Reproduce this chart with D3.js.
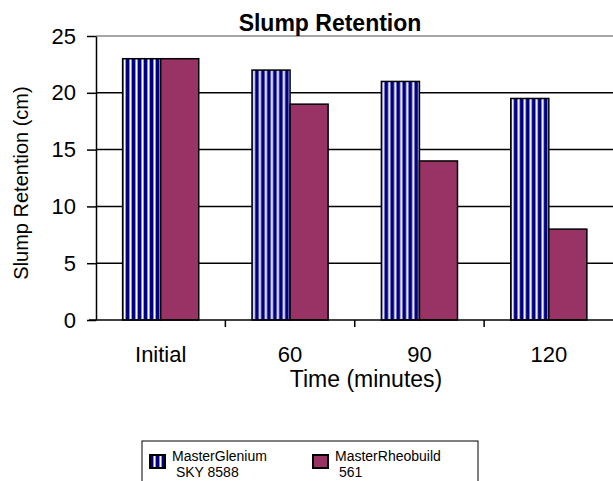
<!DOCTYPE html>
<html>
<head>
<meta charset="utf-8">
<script src="https://cdn.jsdelivr.net/npm/d3@7"></script>
<style>
  body { margin: 0; background: #fff; }
  text { font-family: Arial, "Liberation Sans", sans-serif; }
</style>
</head>
<body>
<svg id="chart" width="613" height="481"></svg>
<script>
// chart data
var categories = ["Initial", "60", "90", "120"];
var glenium = [23, 22, 21, 19.5];
var rheobuild = [23, 19, 14, 8];
var seriesNames = ["MasterGlenium", "MasterRheobuild"];
var legendLines = [["MasterGlenium", " SKY 8588"], ["MasterRheobuild", " 561"]];
var yTicks = [0, 5, 10, 15, 20, 25];

var svg = d3.select("#chart");

// stripe pattern for the first series
var defs = svg.append("defs");
var pat = defs.append("pattern")
    .attr("id", "stripes")
    .attr("patternUnits", "userSpaceOnUse")
    .attr("width", 6).attr("height", 10);
pat.append("rect").attr("width", 6).attr("height", 10).attr("fill", "#fff");
pat.append("rect").attr("x", 0).attr("width", 3.2).attr("height", 10).attr("fill", "#000080");
pat.append("rect").attr("x", 3.2).attr("width", 0.8).attr("height", 10).attr("fill", "#7c7cc8");
pat.append("rect").attr("x", 5.2).attr("width", 0.8).attr("height", 10).attr("fill", "#7c7cc8");

var fills = ["url(#stripes)", "#993366"];

var x0 = d3.scaleBand().domain(categories).range([96, 613.5]).padding(0);
var x1 = d3.scaleBand().domain(seriesNames).range([0, x0.bandwidth()])
    .paddingInner(0).paddingOuter(0.7);
var y = d3.scaleLinear().domain([0, 25]).range([320, 36]);

// gridlines
svg.append("g").selectAll("line")
    .data(yTicks.filter(function(d){ return d > 0; }))
    .enter().append("line")
    .attr("x1", 96).attr("x2", 613)
    .attr("y1", function(d){ return y(d); })
    .attr("y2", function(d){ return y(d); })
    .attr("stroke", function(d){ return d == 25 ? "#888" : "#000"; })
    .attr("stroke-width", 1.5);

// bars
var rows = categories.map(function(c, i){
    return [{cat: c, s: seriesNames[0], v: glenium[i]}, {cat: c, s: seriesNames[1], v: rheobuild[i]}];
});
var groups = svg.append("g").selectAll("g")
    .data(rows).enter().append("g")
    .attr("transform", function(d){ return "translate(" + x0(d[0].cat) + ",0)"; });
groups.selectAll("rect")
    .data(function(d){ return d; })
    .enter().append("rect")
    .attr("x", function(d){ return x1(d.s); })
    .attr("y", function(d){ return y(d.v); })
    .attr("width", x1.bandwidth())
    .attr("height", function(d){ return y(0) - y(d.v); })
    .attr("fill", function(d, i){ return fills[i]; })
    .attr("stroke", "#000")
    .attr("stroke-width", 1.5);

// y axis
var yAxis = svg.append("g")
    .attr("transform", "translate(96,0)")
    .call(d3.axisLeft(y).tickValues(yTicks).tickSize(9).tickPadding(11).tickSizeOuter(0));
yAxis.select(".domain").attr("stroke-width", 1.5);
yAxis.selectAll(".tick line").attr("stroke-width", 1.5);
yAxis.selectAll("text").attr("font-size", 22).attr("fill", "#000")
    .style("font-family", "Arial, 'Liberation Sans', sans-serif");

// x axis
var xAxis = svg.append("g")
    .attr("transform", "translate(0,320)")
    .call(d3.axisBottom(x0).tickSize(0).tickPadding(26).tickSizeOuter(0));
xAxis.select(".domain").attr("stroke-width", 1.5).attr("d", "M89,0H613");
xAxis.selectAll("text").attr("font-size", 22).attr("fill", "#000")
    .style("font-family", "Arial, 'Liberation Sans', sans-serif");
xAxis.selectAll(".sep")
    .data(categories.slice(1))
    .enter().append("line")
    .attr("class", "sep")
    .attr("x1", function(d){ return x0(d); })
    .attr("x2", function(d){ return x0(d); })
    .attr("y1", 0).attr("y2", 7)
    .attr("stroke", "#000").attr("stroke-width", 1.5);

// titles
svg.append("text")
    .attr("x", 330).attr("y", 31)
    .attr("text-anchor", "middle")
    .attr("font-size", 23).attr("font-weight", "bold")
    .text("Slump Retention");

svg.append("text")
    .attr("x", 366).attr("y", 387)
    .attr("text-anchor", "middle")
    .attr("font-size", 23)
    .text("Time (minutes)");

svg.append("text")
    .attr("transform", "translate(28,183) rotate(-90)")
    .attr("text-anchor", "middle")
    .attr("font-size", 20)
    .text("Slump Retention (cm)");

// legend
var legend = svg.append("g");
legend.append("rect")
    .attr("x", 142).attr("y", 441)
    .attr("width", 336).attr("height", 60)
    .attr("fill", "#fff").attr("stroke", "#000").attr("stroke-width", 1);
var legX = [150, 313];
legendLines.forEach(function(lines, i){
    legend.append("rect")
        .attr("x", legX[i]).attr("y", 455)
        .attr("width", 15).attr("height", 13)
        .attr("fill", fills[i])
        .attr("stroke", "#000").attr("stroke-width", 2);
    lines.forEach(function(l, j){
        legend.append("text")
            .attr("x", legX[i] + 22).attr("y", 461 + j * 16)
            .attr("font-size", 14)
            .attr("xml:space", "preserve")
            .style("white-space", "pre")
            .text(l);
    });
});
</script>
</body>
</html>
